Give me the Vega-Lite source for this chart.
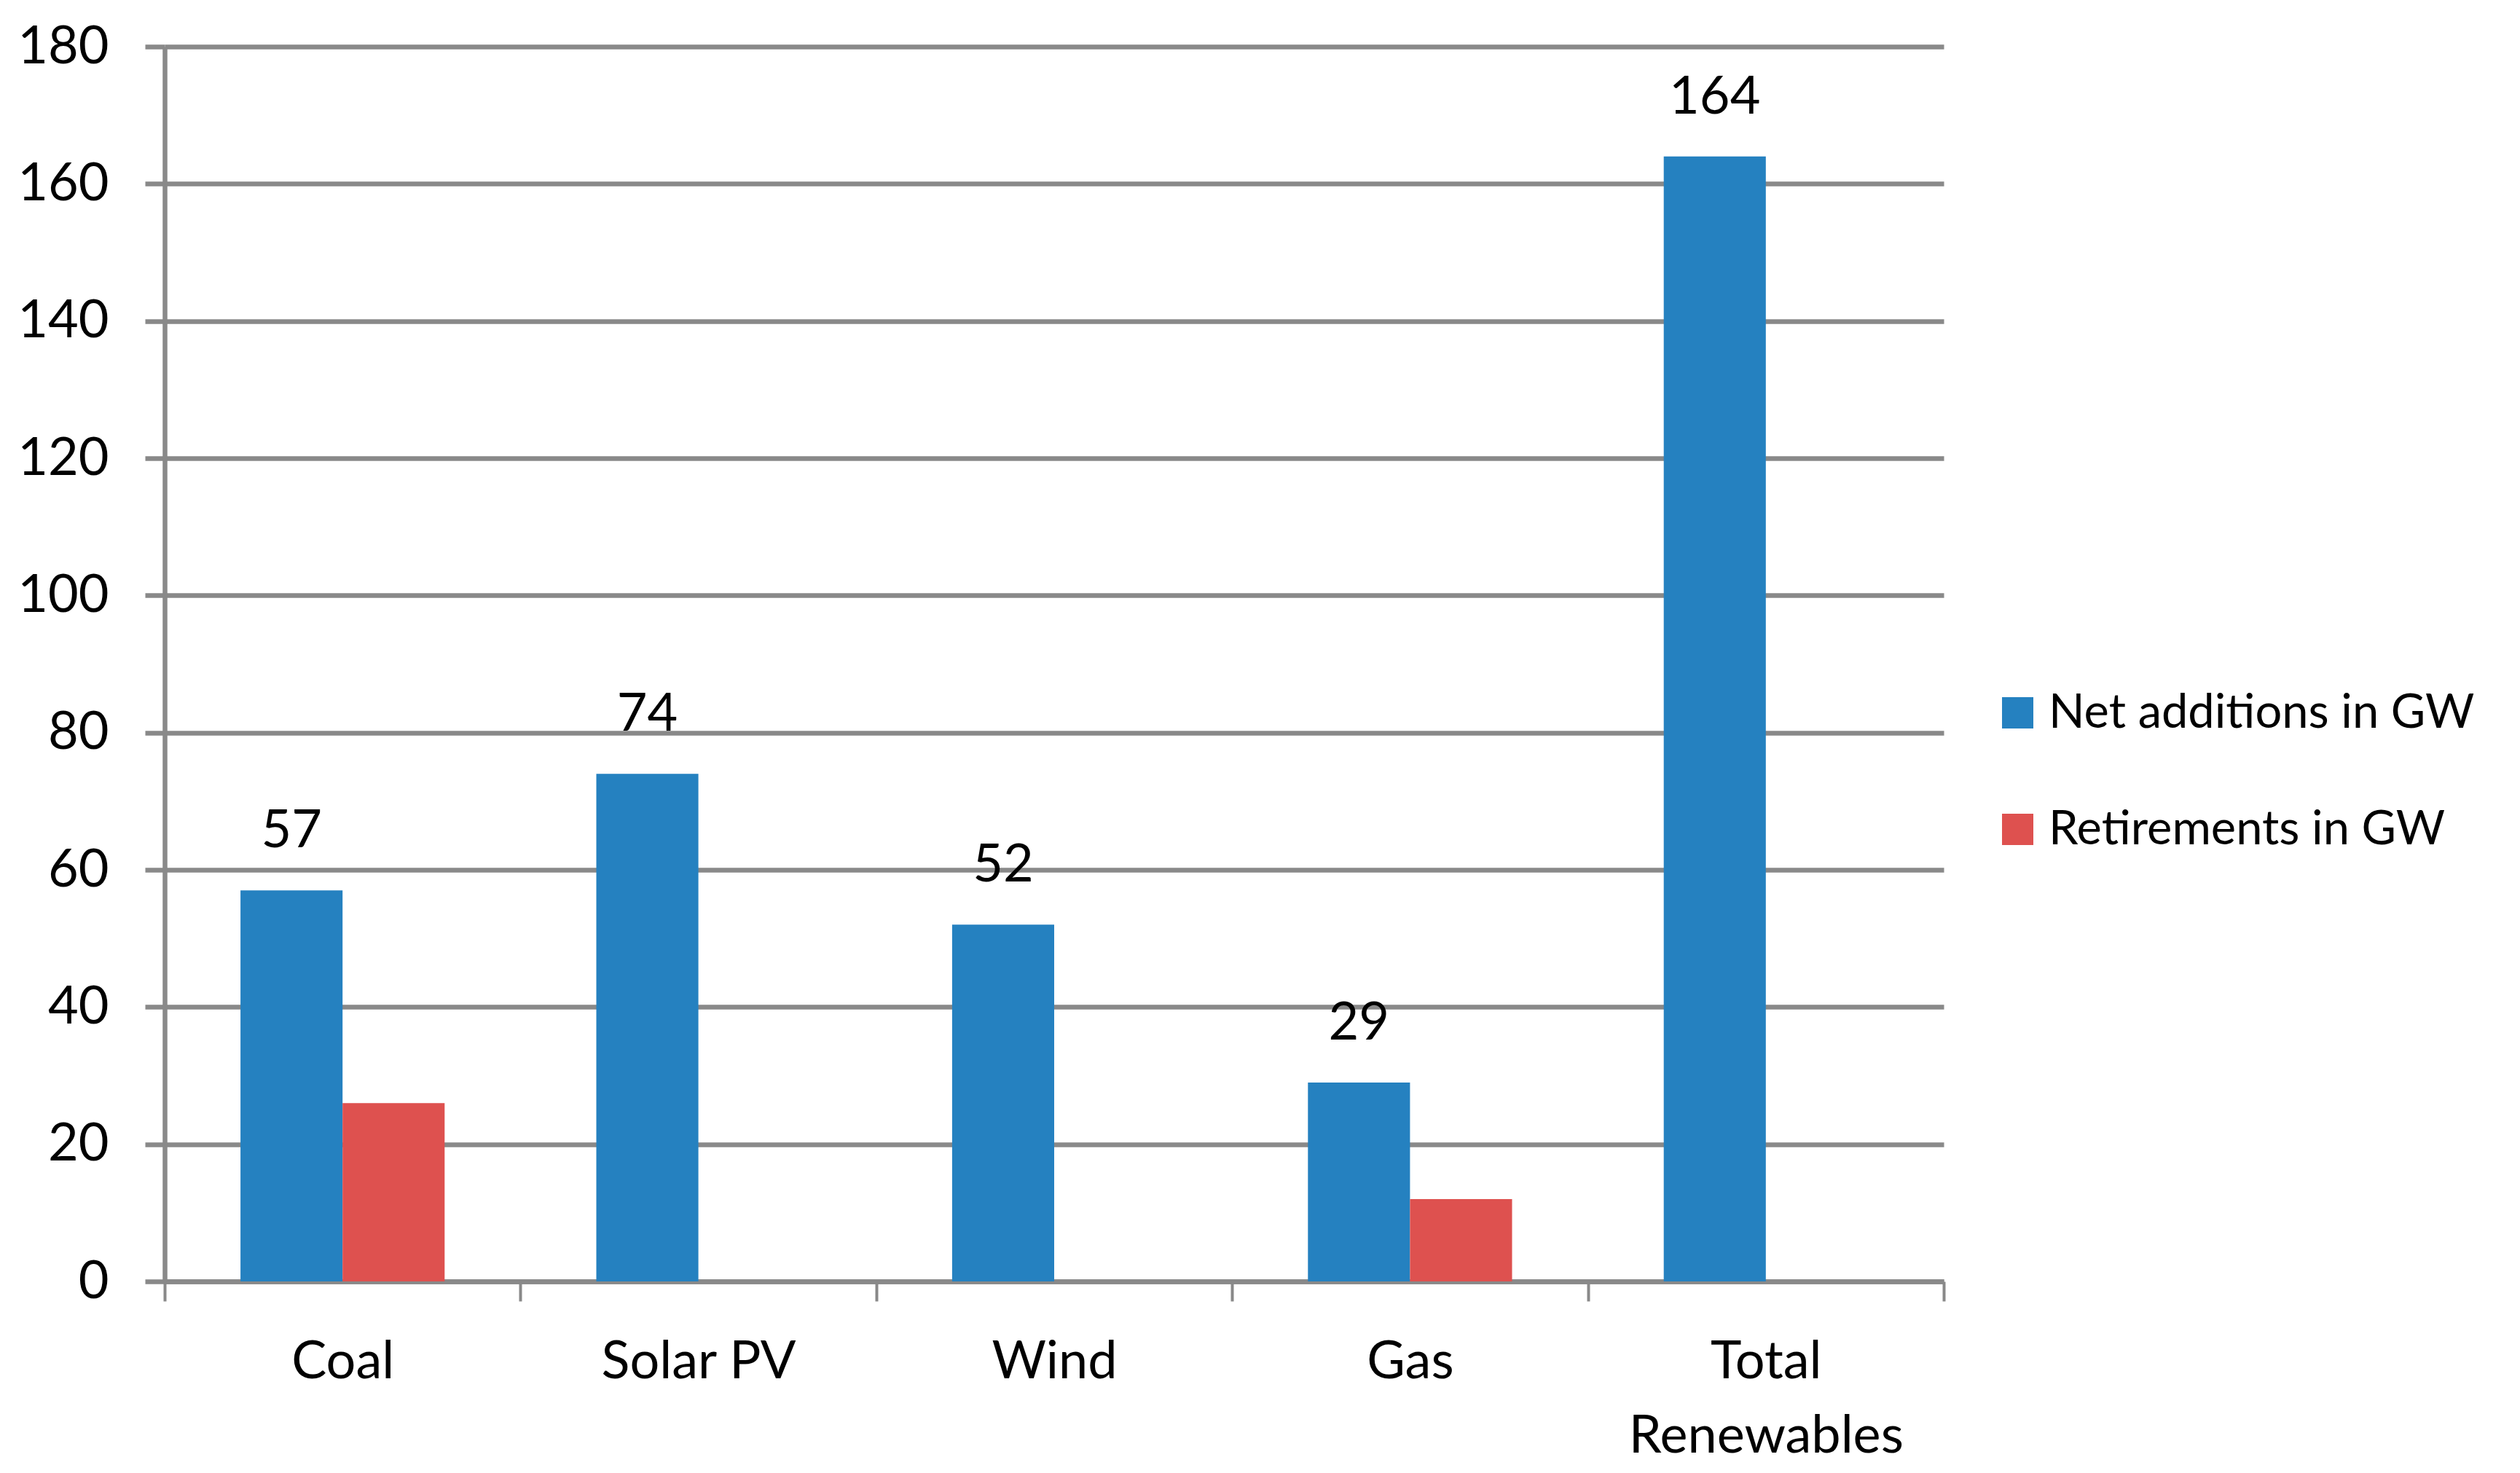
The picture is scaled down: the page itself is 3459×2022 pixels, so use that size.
{
  "$schema": "https://vega.github.io/schema/vega-lite/v6.json",
  "width": 2442,
  "height": 1695,
  "autosize": {"type": "none"},
  "padding": {"left": 226, "top": 64, "right": 791, "bottom": 263},
  "background": "white",
  "config": {"view": {"stroke": null}},
  "data": {
    "values": [
      {"category": "Coal", "series": "Net additions in GW", "value": 57},
      {"category": "Coal", "series": "Retirements in GW", "value": 26},
      {"category": "Solar PV", "series": "Net additions in GW", "value": 74},
      {"category": "Wind", "series": "Net additions in GW", "value": 52},
      {"category": "Gas", "series": "Net additions in GW", "value": 29},
      {"category": "Gas", "series": "Retirements in GW", "value": 12},
      {"category": "Total Renewables", "series": "Net additions in GW", "value": 164}
    ]
  },
  "encoding": {
    "x": {
      "field": "category",
      "type": "nominal",
      "sort": ["Coal", "Solar PV", "Wind", "Gas", "Total Renewables"],
      "scale": {"paddingInner": 0, "paddingOuter": 0},
      "axis": {
        "title": null,
        "labelAngle": 0,
        "tickBand": "extent",
        "tickSize": 27,
        "tickWidth": 4,
        "tickColor": "#898989",
        "domainColor": "#898989",
        "domainWidth": 6.5,
        "grid": false,
        "labelFont": "Lato",
        "labelFontSize": 72,
        "labelColor": "black",
        "labelPadding": 48,
        "labelLineHeight": 102,
        "labelLimit": 2000,
        "labelExpr": "datum.label == 'Total Renewables' ? ['Total', 'Renewables'] : datum.label"
      }
    },
    "xOffset": {
      "field": "series",
      "type": "nominal",
      "sort": ["Net additions in GW", "Retirements in GW"],
      "scale": {"paddingInner": 0, "paddingOuter": 0.743}
    },
    "y": {
      "field": "value",
      "type": "quantitative",
      "scale": {"domain": [0, 180], "nice": false},
      "axis": {
        "title": null,
        "values": [0, 20, 40, 60, 80, 100, 120, 140, 160, 180],
        "format": "d",
        "grid": true,
        "gridColor": "#898989",
        "gridWidth": 6.5,
        "domainColor": "#898989",
        "domainWidth": 6.5,
        "tickSize": 27,
        "tickWidth": 6.5,
        "tickColor": "#898989",
        "labelFont": "Lato",
        "labelFontSize": 72,
        "labelColor": "black",
        "labelPadding": 50
      }
    }
  },
  "layer": [
    {
      "mark": {"type": "bar"},
      "encoding": {
        "color": {
          "field": "series",
          "type": "nominal",
          "scale": {
            "domain": ["Net additions in GW", "Retirements in GW"],
            "range": ["#2581C0", "#DE514F"]
          },
          "legend": {
            "orient": "none",
            "legendX": 2511,
            "legendY": 882,
            "title": null,
            "symbolType": "square",
            "symbolSize": 1849,
            "symbolStrokeWidth": 0,
            "symbolOpacity": 1,
            "labelFont": "Lato",
            "labelFontSize": 65,
            "labelColor": "black",
            "labelOffset": 10,
            "labelLimit": 0,
            "rowPadding": 94,
            "padding": 0
          }
        }
      }
    },
    {
      "transform": [{"filter": "datum.series == 'Net additions in GW'"}],
      "mark": {
        "type": "text",
        "font": "Lato",
        "fontSize": 72,
        "color": "black",
        "align": "center",
        "baseline": "alphabetic",
        "dy": -59
      },
      "encoding": {
        "text": {"field": "value", "type": "quantitative"}
      }
    }
  ]
}
